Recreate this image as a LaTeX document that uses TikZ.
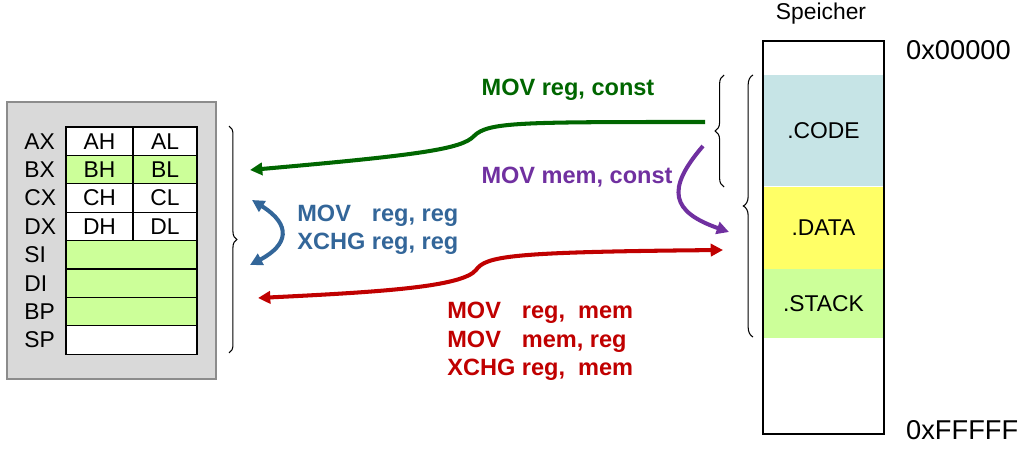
\documentclass[tikz,border=0pt]{standalone}
\usepackage{fontspec}
\setmainfont{Liberation Sans}
\usetikzlibrary{arrows.meta,decorations.pathreplacing}

\definecolor{regbg}{HTML}{D9D9D9}
\definecolor{regframe}{HTML}{8C8C8C}
\definecolor{lgreen}{HTML}{CCFF99}
\definecolor{codebg}{HTML}{C6E4E6}
\definecolor{databg}{HTML}{FFFF66}
\definecolor{movgreen}{HTML}{006600}
\definecolor{movpurple}{HTML}{7030A0}
\definecolor{movblue}{HTML}{336699}
\definecolor{movred}{HTML}{C00000}

\tikzset{
	cell/.style={draw, fill=white, minimum height=0.568cm, inner sep=0pt, line width=0.6pt, font=\fontsize{13}{15}\selectfont},
	regname/.style={anchor=west, inner sep=0pt, font=\fontsize{13}{15}\selectfont},
	seg/.style={minimum width=2.38cm, inner sep=0pt, font=\fontsize{13}{15}\selectfont},
	instr/.style={inner sep=0pt, font=\fontsize{13.4}{16.2}\selectfont\bfseries},
	flow/.style={line width=2.3pt},
	curly/.style={decorate, decoration={brace, amplitude=#1}, line width=0.6pt},
	>={Triangle[length=7pt,width=7pt]}
}

\begin{document}
\begin{tikzpicture}[x=0.02cm, y=-0.02cm]
	\useasboundingbox (0,0) rectangle (1018,449);

	% registers
	\node[draw=regframe, fill=regbg, line width=0.8pt, minimum width=4.18cm, minimum height=5.54cm] (cpu) at (111.5,240.5) {};

	\node[cell, minimum width=1.34cm] (ah) at (99.5,141.2) {AH};
	\node[cell, minimum width=1.28cm] (al) at (165,141.2) {AL};
	\node[cell, fill=lgreen, minimum width=1.34cm] (bh) at (99.5,169.6) {BH};
	\node[cell, fill=lgreen, minimum width=1.28cm] (bl) at (165,169.6) {BL};
	\node[cell, minimum width=1.34cm] (ch) at (99.5,198) {CH};
	\node[cell, minimum width=1.28cm] (cl) at (165,198) {CL};
	\node[cell, minimum width=1.34cm] (dh) at (99.5,226.4) {DH};
	\node[cell, minimum width=1.28cm] (dl) at (165,226.4) {DL};
	\node[cell, fill=lgreen, minimum width=2.62cm] (si) at (131.5,254.8) {};
	\node[cell, fill=lgreen, minimum width=2.62cm] (di) at (131.5,283.2) {};
	\node[cell, fill=lgreen, minimum width=2.62cm] (bp) at (131.5,311.6) {};
	\node[cell, minimum width=2.62cm] (sp) at (131.5,340) {};

	\node[regname] (ax) at (24,141.2) {AX};
	\node[regname] (bx) at (24,169.6) {BX};
	\node[regname] (cx) at (24,198) {CX};
	\node[regname] (dx) at (24,226.4) {DX};
	\node[regname] (siname) at (24,254.8) {SI};
	\node[regname] (diname) at (24,283.2) {DI};
	\node[regname] (bpname) at (24,311.6) {BP};
	\node[regname] (spname) at (24,340) {SP};

	\draw[curly=4.5pt] (229,126) -- (229,353);

	% memory
	\node[seg, fill=codebg, minimum height=2.22cm] (code) at (823.5,130.5) {.CODE};
	\node[seg, fill=databg, minimum height=1.66cm] (data) at (823.5,228) {.DATA};
	\node[seg, fill=lgreen, minimum height=1.38cm] (stack) at (823.5,303.5) {.STACK};
	\node[draw, line width=0.8pt, minimum width=2.42cm, minimum height=7.86cm] (mem) at (823.5,237.5) {};

	\node[font=\fontsize{13}{15}\selectfont] (speicher) at (821,14) {Speicher};
	\node[anchor=west, font=\fontsize{15.5}{18}\selectfont] (lowaddr) at (900,50) {0x00000};
	\node[anchor=west, font=\fontsize{15.5}{18}\selectfont] (highaddr) at (900,430) {0xFFFFF};

	\draw[curly=5pt] (724,187) -- (724,75);
	\draw[curly=5.5pt] (753,337) -- (753,75);

	% instructions
	\node[instr, text=movgreen] (regconst) at (568,90) {MOV reg, const};
	\node[instr, text=movpurple] (memconst) at (577,177) {MOV mem, const};
	\node[instr, text=movblue, anchor=west] (regreg) at (297,230) {\begin{tabular}{@{}l@{ }l@{}}MOV & reg, reg\\XCHG & reg, reg\end{tabular}};
	\node[instr, text=movred, anchor=west] (regmem) at (447,341.5) {\begin{tabular}{@{}l@{ }l@{}}MOV & reg,\ \ mem\\MOV & mem, reg\\XCHG & reg,\ \ mem\end{tabular}};

	\coordinate (gfrom) at (705,122);
	\coordinate (gto) at (250,170);
	\coordinate (pfrom) at (703,146);
	\coordinate (pto) at (729,232);
	\coordinate (btop) at (252,200);
	\coordinate (bbot) at (250,265);
	\coordinate (rleft) at (258,298);
	\coordinate (rright) at (723,250);

	\draw[flow, ->, movgreen] (gfrom) .. controls (520,122) and (488,122) .. (474,136) .. controls (462,149) and (420,155) .. (gto);
	\draw[flow, ->, movpurple] (pfrom) .. controls (665,190) and (672,212) .. (pto);
	\draw[flow, <->, movblue] (btop) .. controls (292,225) and (288,245) .. (bbot);
	\draw[flow, <->, movred] (rleft) .. controls (380,292) and (462,287) .. (476,270) .. controls (486,256) and (510,252) .. (rright);
\end{tikzpicture}
\end{document}
